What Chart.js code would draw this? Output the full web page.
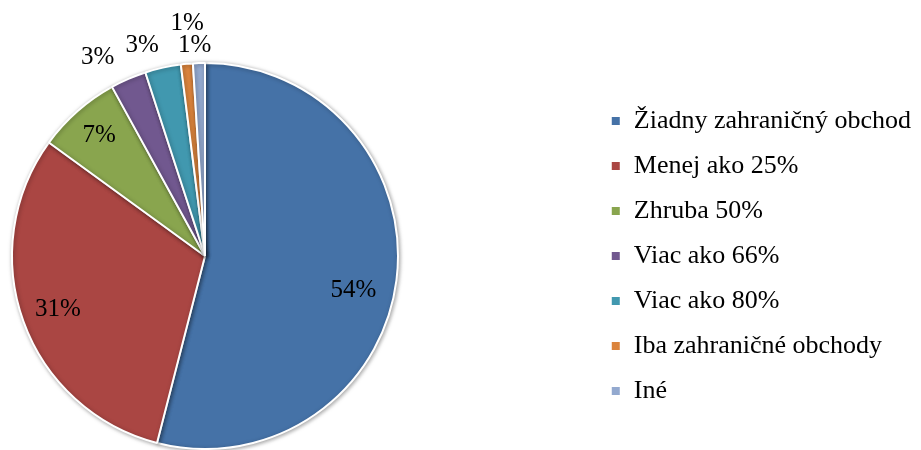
<!DOCTYPE html>
<html>
<head>
<meta charset="utf-8">
<script src="https://cdn.jsdelivr.net/npm/chart.js@4"></script>
<style>
  html, body { margin: 0; padding: 0; background: #fff; }
  #wrap { width: 921px; height: 450px; }
</style>
</head>
<body>
<div id="wrap"><canvas id="pieChart" width="921" height="450"></canvas></div>
<script>
const categories = ['Žiadny zahraničný obchod', 'Menej ako 25%', 'Zhruba 50%', 'Viac ako 66%', 'Viac ako 80%', 'Iba zahraničné obchody', 'Iné'];
const shares = [54, 31, 7, 3, 3, 1, 1];
const percentLabels = ['54%', '31%', '7%', '3%', '3%', '1%', '1%'];
const sliceColors = ['#4572A7', '#AA4643', '#89A54E', '#71588F', '#4198AF', '#DB843D', '#93A9CF'];

// label placement: fraction of radius and angle nudge (deg)
const labelRadius = [0.79, 0.81, 0.83, 1.17, 1.14, 1.21, 1.09];
const labelNudge = [6, 0, 0, -5, -4, 1, -1];

const serif = '"Liberation Serif", "Times New Roman", serif';

// keep the pie in a square on the left, legend stays on the right
const squareArea = {
  id: 'squareArea',
  afterLayout(chart) {
    const a = chart.chartArea;
    a.right = a.left + (a.bottom - a.top);
    a.width = a.right - a.left;
  }
};

const shadowPlugin = {
  id: 'pieShadow',
  beforeDatasetsDraw(chart) {
    const ctx = chart.ctx;
    ctx.save();
    ctx.shadowColor = 'rgba(0,0,0,0.35)';
    ctx.shadowBlur = 4;
    ctx.shadowOffsetX = 1;
    ctx.shadowOffsetY = 1;
  },
  afterDatasetsDraw(chart) {
    chart.ctx.restore();
  }
};

const pctLabels = {
  id: 'pctLabels',
  afterDatasetsDraw(chart) {
    const ctx = chart.ctx;
    const meta = chart.getDatasetMeta(0);
    ctx.save();
    ctx.font = '25px ' + serif;
    ctx.fillStyle = '#000';
    ctx.textAlign = 'center';
    ctx.textBaseline = 'middle';
    meta.data.forEach((arc, i) => {
      const p = arc.getProps(['x', 'y', 'startAngle', 'endAngle', 'outerRadius'], true);
      const mid = (p.startAngle + p.endAngle) / 2 + labelNudge[i] * Math.PI / 180;
      const r = p.outerRadius * labelRadius[i];
      ctx.fillText(percentLabels[i], p.x + Math.cos(mid) * r, p.y + Math.sin(mid) * r);
    });
    ctx.restore();
  }
};

new Chart(document.getElementById('pieChart'), {
  type: 'pie',
  data: {
    labels: categories,
    datasets: [{
      data: shares,
      backgroundColor: sliceColors,
      borderColor: '#fff',
      borderWidth: 2
    }]
  },
  options: {
    responsive: false,
    animation: false,
    layout: { padding: { left: 11, right: 0, top: 62, bottom: 0 } },
    plugins: {
      tooltip: { enabled: false },
      legend: {
        position: 'right',
        labels: {
          boxWidth: 10,
          boxHeight: 10,
          padding: 19,
          color: '#000',
          font: { family: serif, size: 26 }
        }
      }
    }
  },
  plugins: [squareArea, shadowPlugin, pctLabels]
});
</script>
</body>
</html>
